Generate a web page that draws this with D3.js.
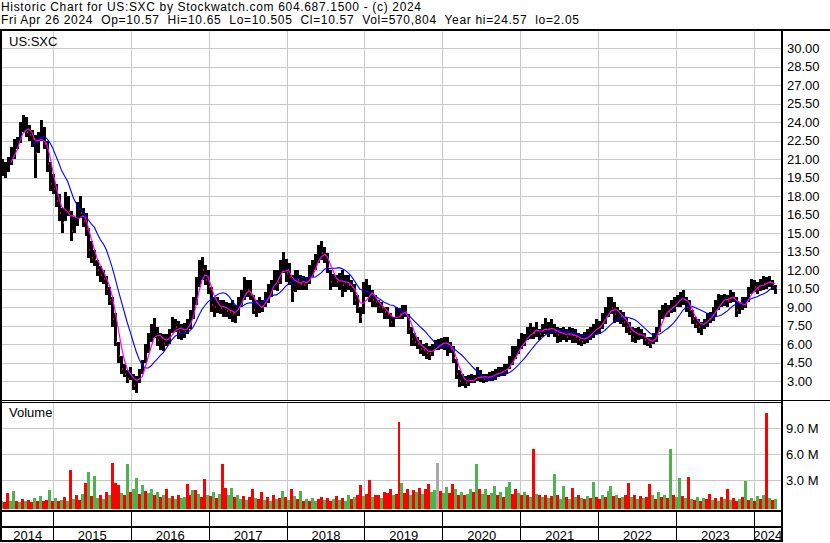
<!DOCTYPE html>
<html><head><meta charset="utf-8">
<script src="https://cdn.jsdelivr.net/npm/d3@7/dist/d3.min.js"></script>
<style>
body{margin:0;background:#fff}
svg{display:block}
text{font-family:"Liberation Sans",Arial,sans-serif;font-size:13px;fill:#000}
</style>
</head><body><svg id="c" width="830" height="543"></svg>
<script>
const titleLine = "Historic Chart for US:SXC by Stockwatch.com 604.687.1500 - (c) 2024";
const quoteLine = "Fri Apr 26 2024  Op=10.57  Hi=10.65  Lo=10.505  Cl=10.57  Vol=570,804  Year hi=24.57  lo=2.05";
const symbol = "US:SXC";
const startDate = "2014-05-05";
const stepDays = 14;
const high = [21.0,20.8,21.2,22.0,22.6,22.8,24.0,24.6,24.4,23.8,
23.4,23.0,23.2,24.2,23.6,22.5,20.8,19.8,19.0,18.2,
17.0,18.3,18.0,16.8,16.3,17.5,18.0,17.0,16.6,15.4,
14.4,13.6,12.8,12.3,12.0,11.5,10.6,9.8,8.5,6.2,
5.0,4.4,3.9,4.1,3.6,3.4,4.0,4.7,6.0,6.9,
7.6,8.1,7.4,6.9,6.8,6.8,7.2,8.2,8.0,7.9,
7.6,7.7,8.0,8.8,9.8,11.4,12.8,13.1,12.4,12.0,
10.6,9.8,9.8,9.6,9.6,9.4,9.3,9.6,9.2,9.8,
10.4,11.4,11.2,11.2,10.0,9.6,9.8,9.6,10.2,10.9,
11.2,12.0,12.0,12.8,13.5,12.9,12.6,11.6,12.0,12.0,
11.6,11.5,11.4,12.4,12.8,13.3,14.0,14.4,13.9,13.4,
12.0,11.7,11.6,11.8,12.0,11.6,11.6,11.2,10.9,10.0,
9.0,11.0,11.3,10.8,10.4,10.0,9.6,9.4,9.0,9.0,
8.5,8.2,9.0,8.9,9.2,9.2,8.4,7.4,6.9,6.6,
6.3,6.0,6.1,5.8,6.0,6.3,6.4,6.5,6.6,6.6,
6.2,5.8,4.8,3.9,3.6,3.4,3.5,3.6,3.5,4.1,
3.9,3.6,3.6,3.7,3.8,4.0,4.1,4.1,4.4,4.4,
5.0,5.8,5.8,6.4,6.9,6.8,7.4,7.7,7.4,7.8,
7.2,7.6,8.1,7.8,8.0,7.6,7.4,7.3,7.4,7.2,
7.4,7.3,7.2,6.9,6.8,7.0,7.2,7.4,7.6,8.0,
7.9,8.5,9.0,9.8,9.8,9.4,9.0,8.8,8.6,8.2,
7.8,7.4,7.3,7.4,7.2,6.9,6.6,6.6,6.9,7.4,
8.8,9.2,9.3,9.2,9.6,9.8,10.0,10.2,10.4,9.8,
9.6,8.8,8.2,8.0,7.8,8.0,8.5,8.6,9.0,9.6,
10.1,10.0,10.1,10.0,10.4,10.2,9.8,9.4,9.8,9.8,
10.6,11.3,11.2,11.0,11.3,11.5,11.4,11.5,11.2,10.8];
const low = [19.6,19.5,20.0,20.5,21.0,21.8,22.3,23.2,22.8,22.5,
22.0,19.5,21.5,22.5,21.8,20.0,18.4,18.2,17.1,16.0,
15.0,16.0,16.4,14.4,15.0,15.6,16.2,15.5,14.8,13.0,
12.6,12.3,11.5,11.0,10.9,10.0,9.2,7.4,5.8,4.5,
3.6,3.3,2.85,3.1,2.3,2.05,2.8,3.6,4.5,5.3,
6.2,6.5,5.8,5.5,5.4,5.8,6.0,6.9,7.0,6.4,
6.3,6.5,6.8,7.2,8.0,9.2,10.6,11.2,10.8,10.1,
8.6,8.2,8.5,8.4,8.2,8.2,8.0,7.8,7.7,8.3,
9.0,9.6,9.8,9.6,8.4,8.2,8.5,8.6,9.0,9.3,
9.8,10.4,10.3,10.9,11.8,11.0,10.8,9.4,10.2,10.4,
10.4,10.4,10.4,10.9,11.4,12.0,12.6,12.8,12.6,11.8,
10.4,10.6,10.6,10.4,9.8,10.2,10.4,10.2,9.2,8.5,
7.7,8.4,9.8,9.4,9.0,9.0,8.5,8.5,8.0,8.0,
7.4,7.4,8.0,8.0,8.0,8.2,6.8,5.8,5.8,5.6,
5.2,5.0,4.8,4.7,5.0,5.5,5.5,5.6,5.5,5.0,
5.3,4.5,3.2,2.5,2.6,2.4,2.6,2.8,2.8,3.0,
2.9,2.8,2.9,3.0,3.0,3.1,3.3,3.4,3.4,3.6,
4.0,4.3,4.8,5.2,5.6,5.8,6.3,6.4,6.4,6.6,
6.3,6.6,6.8,6.6,6.8,6.6,6.1,6.2,6.3,6.2,
6.3,6.1,6.1,5.9,5.8,6.0,6.1,6.3,6.5,6.8,
6.8,7.2,7.6,8.2,8.4,7.7,7.8,7.6,7.4,6.9,
6.7,6.2,6.1,6.3,6.4,5.9,5.8,5.7,6.0,6.2,
7.0,8.0,8.2,8.2,8.5,8.6,9.0,9.0,9.2,8.6,
8.2,7.6,7.3,6.9,6.7,7.2,7.4,7.7,7.9,8.2,
8.8,9.0,9.1,9.0,9.3,9.4,8.2,8.4,8.8,8.9,
9.4,10.1,10.2,10.1,10.3,10.4,10.5,10.6,10.4,10.1];
const close = [20.3,20.5,20.6,21.5,22.2,22.5,23.6,24.0,23.2,23.0,
22.6,21.5,22.8,23.5,22.2,20.6,19.0,18.6,17.6,16.6,
15.8,17.8,16.8,15.2,15.8,17.2,16.6,16.0,15.3,13.6,
13.0,12.8,12.0,11.6,11.3,10.5,9.6,8.0,6.2,5.0,
4.0,3.6,3.2,3.6,2.6,2.8,3.6,4.4,5.6,6.2,
7.0,7.2,6.3,6.4,6.0,6.5,6.8,7.6,7.4,7.0,
7.2,7.0,7.6,8.4,9.4,11.0,12.2,12.0,11.2,10.6,
9.2,9.0,9.3,8.9,9.0,8.7,8.6,8.4,8.5,9.5,
10.0,10.8,10.4,10.0,8.8,8.9,9.2,9.0,9.8,10.4,
10.8,11.6,11.0,12.3,12.6,11.8,11.4,10.2,11.4,11.2,
10.9,10.8,11.0,11.9,12.4,12.9,13.6,13.4,13.2,12.2,
11.0,11.2,11.0,11.4,10.8,11.0,10.8,10.6,9.6,9.0,
8.2,10.4,10.6,10.0,9.6,9.4,9.0,8.9,8.6,8.4,
7.8,7.9,8.6,8.4,8.8,8.6,7.2,6.4,6.2,6.0,
5.6,5.5,5.3,5.2,5.6,6.0,6.1,6.0,6.2,6.0,
5.6,4.9,3.6,3.0,3.2,2.8,3.0,3.1,3.2,3.6,
3.3,3.2,3.3,3.4,3.5,3.6,3.8,3.7,4.0,4.1,
4.6,5.2,5.5,6.0,6.3,6.4,7.0,7.2,6.9,7.4,
6.8,7.2,7.4,7.2,7.3,7.0,6.7,6.8,7.0,6.6,
6.9,6.7,6.6,6.3,6.2,6.6,6.8,7.0,7.2,7.6,
7.4,8.0,8.6,9.2,8.9,8.4,8.6,8.2,7.8,7.4,
7.0,6.6,6.9,6.8,6.8,6.3,6.1,6.0,6.5,7.0,
8.4,8.6,8.8,8.6,9.2,9.4,9.6,9.8,10.0,9.0,
8.8,8.0,7.6,7.4,7.6,7.8,8.2,8.3,8.6,9.2,
9.6,9.6,9.8,9.5,10.0,9.8,8.8,9.0,9.4,9.5,
10.3,10.8,10.6,10.5,11.0,10.9,11.2,11.0,10.8,10.57];
const volumeM = [0.6,0.4,1.5,0.5,1.7,0.6,0.4,0.8,0.5,0.7,
0.4,0.9,0.6,1.1,0.5,0.7,1.8,0.6,0.9,0.5,
0.7,1.0,0.6,4.2,0.8,1.2,0.7,1.4,2.6,3.9,
1.1,3.5,0.9,1.3,0.8,1.6,1.2,5.0,2.6,2.4,
1.5,1.3,4.9,1.6,1.9,3.2,1.4,2.4,1.7,1.5,
2.0,1.3,1.6,1.0,1.2,2.0,0.9,1.1,0.8,1.3,
0.9,1.0,2.5,1.2,1.8,1.8,1.4,1.0,3.1,1.3,
1.1,1.6,0.9,1.4,4.8,2.1,1.2,2.1,1.0,1.3,
0.8,1.1,0.7,1.0,2.0,0.9,0.8,1.6,0.7,1.0,
0.6,1.2,0.8,0.9,1.7,1.0,0.7,1.9,1.1,0.8,
1.7,0.6,0.8,0.5,0.9,0.6,0.8,1.0,0.7,0.9,
0.6,0.8,1.1,0.7,0.9,0.6,1.2,0.8,1.0,1.3,
2.4,1.1,1.4,3.0,1.0,1.3,1.2,0.9,1.6,1.5,
1.9,1.2,1.4,9.7,2.6,1.5,2.0,1.3,1.8,1.6,
2.1,1.4,1.9,2.5,1.6,1.8,5.0,1.7,1.5,2.2,
1.5,2.5,1.9,1.3,1.6,1.2,1.4,1.9,1.6,4.9,
2.0,1.4,1.9,1.3,1.5,2.3,1.2,1.6,1.0,2.2,
2.8,1.4,2.0,1.5,1.2,1.6,1.3,1.0,6.6,1.4,
1.2,1.0,1.3,0.9,1.1,3.7,1.2,0.8,2.3,1.0,
0.8,2.1,1.0,1.2,0.9,0.8,1.1,0.9,2.8,1.0,
0.8,1.2,1.0,1.7,2.3,1.1,1.3,0.9,1.0,1.2,
2.7,1.0,1.2,0.8,1.1,0.9,1.0,2.5,1.2,0.8,
1.6,1.0,1.3,0.9,6.6,1.2,1.0,3.2,1.1,0.9,
3.4,0.8,0.7,1.0,0.6,0.9,0.8,1.4,0.7,0.9,
0.6,1.0,0.8,1.9,0.7,0.9,0.6,0.8,1.0,2.9,
0.7,0.9,0.6,1.1,0.8,1.2,10.8,0.9,0.7,0.8];
// 1 = up (green), -1 = down (red), 0 = unchanged (grey)
const volDir = [1,-1,-1,1,1,-1,1,-1,1,-1,
-1,1,-1,1,-1,-1,1,-1,1,-1,
1,-1,1,-1,1,-1,-1,1,-1,1,
-1,1,1,-1,1,-1,1,-1,-1,-1,
1,-1,1,-1,1,1,-1,1,-1,1,
1,-1,1,-1,1,-1,1,-1,1,-1,
1,1,-1,-1,1,-1,1,-1,-1,1,
-1,1,-1,1,-1,-1,1,1,-1,1,
1,-1,1,-1,-1,1,-1,-1,1,-1,
1,-1,1,-1,1,-1,1,-1,1,-1,
1,-1,1,-1,1,1,-1,-1,1,-1,
-1,1,-1,1,-1,1,1,-1,1,-1,
-1,1,-1,-1,1,-1,-1,1,-1,-1,
-1,1,-1,-1,1,-1,-1,1,-1,1,
-1,1,-1,-1,1,1,0,-1,1,1,
-1,-1,1,-1,1,-1,1,1,-1,1,
-1,1,1,-1,1,1,-1,1,-1,1,
1,-1,-1,1,-1,1,-1,1,-1,1,
-1,1,-1,1,-1,1,-1,1,1,-1,
1,-1,1,-1,1,-1,1,-1,1,-1,
-1,1,-1,1,1,-1,1,-1,1,-1,
-1,1,-1,1,-1,1,-1,-1,1,-1,
1,-1,1,-1,1,-1,1,1,-1,1,
-1,1,-1,1,-1,1,-1,-1,1,-1,
1,-1,1,-1,1,-1,-1,1,-1,1,
-1,1,-1,1,-1,1,-1,1,-1,1];
const priceTicks = [3,4.5,6,7.5,9,10.5,12,13.5,15,16.5,18,19.5,21,22.5,24,25.5,27,28.5,30];
const volumeTicks = [3,6,9];
const years = [2014,2015,2016,2017,2018,2019,2020,2021,2022,2023,2024];
const maShortLen = 4, maLongLen = 11;

const svg = d3.select("#c");
const parse = d3.timeParse("%Y-%m-%d");
const t0 = parse(startDate);
const dates = close.map((_, i) => d3.timeDay.offset(t0, i * stepDays));

const x = d3.scaleTime().domain([new Date(2015,0,1), new Date(2024,0,1)]).range([53.3, 754.3]);
const yP = d3.scaleLinear().domain([3, 30]).range([381, 48.3]);
const yV = d3.scaleLinear().domain([0, 9]).range([505.8, 428.3]);
const GRID = "#c8c8c8";
const L = 2, R = 781;

// header
svg.append("text").attr("x", 1).attr("y", 10.5).attr("textLength", 420).style("font-size","12px").style("white-space","pre").text(titleLine);
svg.append("text").attr("x", 1).attr("y", 23.5).attr("textLength", 578).style("font-size","12px").style("white-space","pre").text(quoteLine);

const g = svg.append("g").attr("shape-rendering","crispEdges");
// gridlines
const yearBounds = years.slice(1).map(y => x(new Date(y,0,1)));
g.selectAll(".hg").data(priceTicks).join("rect")
  .attr("x", L).attr("width", R - L).attr("y", d => Math.round(yP(d))).attr("height", 1).attr("fill", GRID);
g.selectAll(".vg").data(volumeTicks).join("rect")
  .attr("x", L).attr("width", R - L).attr("y", d => Math.round(yV(d))).attr("height", 1).attr("fill", GRID);
yearBounds.forEach(xb => {
  g.append("rect").attr("x", Math.floor(xb)).attr("width",1).attr("y",31).attr("height",369).attr("fill",GRID);
  g.append("rect").attr("x", Math.floor(xb)).attr("width",1).attr("y",403).attr("height",107).attr("fill",GRID);
});

// clip
svg.append("clipPath").attr("id","pc").append("rect").attr("x",L).attr("y",31).attr("width",R-L).attr("height",369);

const pg = svg.append("g").attr("clip-path","url(#pc)").attr("shape-rendering","crispEdges");
// price bars
pg.selectAll(".bar").data(close).join("rect")
  .attr("x", (d,i) => Math.round(x(dates[i])) - 1).attr("width", 3)
  .attr("y", (d,i) => Math.round(yP(high[i])))
  .attr("height", (d,i) => Math.max(1, Math.round(yP(low[i])) - Math.round(yP(high[i]))))
  .attr("fill", "#000");
// close ticks on down periods
pg.selectAll(".ct").data(close.map((c,i)=>({c,i})).filter(o => o.i>0 && o.c < close[o.i-1])).join("rect")
  .attr("x", o => Math.round(x(dates[o.i])) + 1).attr("width", 1)
  .attr("y", o => Math.round(yP(o.c)) - 1).attr("height", 2).attr("fill", "#ff0000");

// moving averages
function sma(arr, n){ return arr.map((_, i) => i < n-1 ? null : d3.mean(arr.slice(i-n+1, i+1))); }
const maS = sma(close, maShortLen), maL = sma(close, maLongLen);
const line = d3.line().defined(d => d.v != null).x(d => x(d.t)).y(d => yP(d.v));
const lg = svg.append("g").attr("clip-path","url(#pc)");
lg.append("path").attr("d", line(maL.map((v,i)=>({t:dates[i],v})))).attr("fill","none").attr("stroke","#0000ff").attr("stroke-width",1.1);
lg.append("path").attr("d", line(maS.map((v,i)=>({t:dates[i],v})))).attr("fill","none").attr("stroke","#ff00ff").attr("stroke-width",1.2);

// volume bars
const vcol = d => d > 0 ? "#4db34d" : d < 0 ? "#ff0000" : "#a8a8a8";
g.selectAll(".vb").data(volumeM).join("rect")
  .attr("x", (d,i) => Math.round(x(d3.timeDay.offset(dates[i], -7))))
  .attr("width", (d,i) => Math.round(x(d3.timeDay.offset(dates[i], 7))) - Math.round(x(d3.timeDay.offset(dates[i], -7))))
  .attr("y", d => Math.round(yV(d)))
  .attr("height", d => 509 - Math.round(yV(d)))
  .attr("fill", (d,i) => vcol(volDir[i]));

// frame
const fr = svg.append("g").attr("shape-rendering","crispEdges").attr("fill","#000");
fr.append("rect").attr("x",0).attr("y",29).attr("width",830).attr("height",2);
fr.append("rect").attr("x",0).attr("y",29).attr("width",2).attr("height",513);
fr.append("rect").attr("x",R).attr("y",29).attr("width",2).attr("height",513);
fr.append("rect").attr("x",0).attr("y",400).attr("width",830).attr("height",1);
fr.append("rect").attr("x",0).attr("y",402).attr("width",R).attr("height",1);
fr.append("rect").attr("x",0).attr("y",510).attr("width",R+2).attr("height",2);
fr.append("rect").attr("x",0).attr("y",526).attr("width",R+2).attr("height",2);
fr.append("rect").attr("x",0).attr("y",540).attr("width",R+2).attr("height",2);
yearBounds.forEach(xb => fr.append("rect").attr("x", Math.floor(xb)).attr("y",512).attr("width",1).attr("height",28));

// labels
svg.append("text").attr("x",9).attr("y",46).text(symbol);
svg.append("text").attr("x",9).attr("y",417).text("Volume");

const pa = svg.append("g").attr("transform",`translate(${R+1},0)`)
  .call(d3.axisRight(yP).tickValues(priceTicks).tickFormat(d3.format(".2f")).tickSize(0).tickPadding(5));
const va = svg.append("g").attr("transform",`translate(${R+1},0)`)
  .call(d3.axisRight(yV).tickValues(volumeTicks).tickFormat(d => d.toFixed(1) + " M").tickSize(0).tickPadding(4));
[pa, va].forEach(a => { a.select(".domain").remove(); a.selectAll("text").attr("fill","#000"); a.attr("font-family",null).attr("font-size",null); });

const edges = [L, ...yearBounds, R];
svg.selectAll(".yl").data(years).join("text")
  .attr("x", (d,i) => (edges[i] + edges[i+1]) / 2).attr("y", 539.5)
  .attr("text-anchor","middle").text(d => d);
</script></body></html>
